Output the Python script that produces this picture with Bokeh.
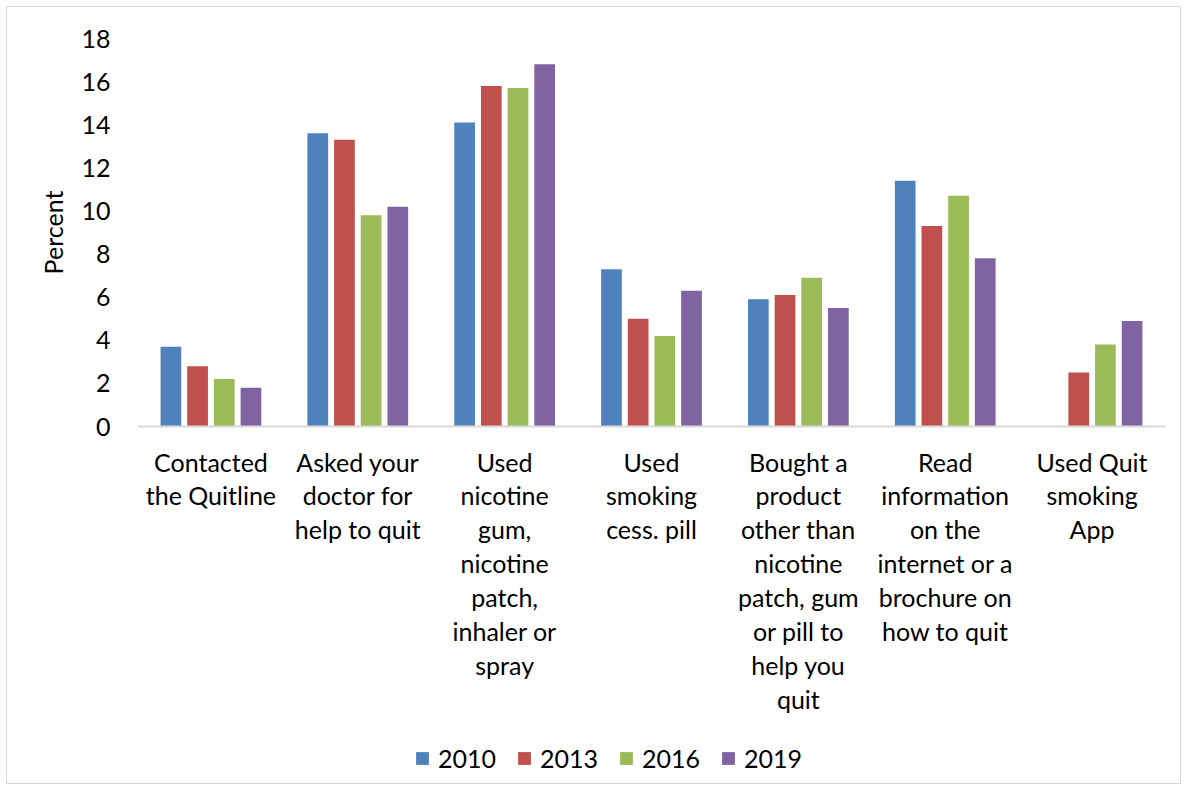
from bokeh.plotting import figure
from bokeh.layouts import column
from bokeh.models import FactorRange, Legend, LegendItem, FixedTicker, ColumnDataSource
from bokeh.transform import dodge
from bokeh.embed import file_html
from bokeh.resources import INLINE

categories = [
    "Contacted\nthe Quitline",
    "Asked your\ndoctor for\nhelp to quit",
    "Used\nnicotine\ngum,\nnicotine\npatch,\ninhaler or\nspray",
    "Used\nsmoking\ncess. pill",
    "Bought a\nproduct\nother than\nnicotine\npatch, gum\nor pill to\nhelp you\nquit",
    "Read\ninformation\non the\ninternet or a\nbrochure on\nhow to quit",
    "Used Quit\nsmoking\nApp",
]
years = ["2010", "2013", "2016", "2019"]
v2010 = [3.7, 13.6, 14.1, 7.3, 5.9, 11.4, float("nan")]
v2013 = [2.8, 13.3, 15.8, 5.0, 6.1, 9.3, 2.5]
v2016 = [2.2, 9.8, 15.7, 4.2, 6.9, 10.7, 3.8]
v2019 = [1.8, 10.2, 16.8, 6.3, 5.5, 7.8, 4.9]
y_ticks = [0, 2, 4, 6, 8, 10, 12, 14, 16, 18]
colors = ["#4F81BD", "#C0504D", "#9BBB59", "#8064A2"]

FONT = "Lato"
FS = "25px"

src = ColumnDataSource(dict(cat=categories, y2010=v2010, y2013=v2013, y2016=v2016, y2019=v2019))

p = figure(
    x_range=FactorRange(*categories, range_padding=0),
    y_range=(0, 18),
    width=1173, height=719,
    output_backend="svg", toolbar_location=None,
    min_border_left=130, min_border_right=15, min_border_top=31, min_border_bottom=300,
)
p.outline_line_color = None
p.xgrid.visible = False
p.ygrid.visible = False

offsets = [-0.2725, -0.0908, 0.0908, 0.2725]
for yr, col, off in zip(years, colors, offsets):
    p.vbar(x=dodge("cat", off, range=p.x_range), top="y" + yr, width=0.141,
           source=src, fill_color=col, line_color=None)

# y axis
p.yaxis.ticker = FixedTicker(ticks=y_ticks)
p.yaxis.axis_line_color = None
p.yaxis.major_tick_line_color = None
p.yaxis.minor_tick_line_color = None
p.yaxis.major_tick_out = 0
p.yaxis.major_tick_in = 0
p.yaxis.major_label_standoff = 27
p.yaxis.major_label_text_font = FONT
p.yaxis.major_label_text_font_size = FS
p.yaxis.major_label_text_color = "#000000"
p.yaxis.axis_label = "Percent"
p.yaxis.axis_label_text_font = FONT
p.yaxis.axis_label_text_font_size = FS
p.yaxis.axis_label_text_font_style = "normal"
p.yaxis.axis_label_text_color = "#000000"
p.yaxis.axis_label_standoff = 10

# x axis
p.xaxis.axis_line_color = "#d9d9d9"
p.xaxis.axis_line_width = 2
p.xaxis.major_tick_line_color = None
p.xaxis.minor_tick_line_color = None
p.xaxis.major_tick_out = 0
p.xaxis.major_tick_in = 0
p.xaxis.major_label_standoff = 20
p.xaxis.major_label_orientation = "horizontal"
p.xaxis.major_label_text_font = FONT
p.xaxis.major_label_text_font_size = FS
p.xaxis.major_label_text_color = "#000000"
p.xaxis.major_label_text_line_height = 1.13

# legend strip (its frame is aligned with the main plot's frame by the column layout)
p2 = figure(width=1173, height=57, x_range=(0, 1), y_range=(0, 1),
            output_backend="svg", toolbar_location=None,
            x_axis_location=None, y_axis_location=None, min_border=0)
p2.outline_line_color = None
p2.xgrid.visible = False
p2.ygrid.visible = False
items = []
for yr, col in zip(years, colors):
    # legend-only renderer: its single bar lies outside the strip's visible range
    r = p2.vbar(x=[5], top=[5], bottom=[4], width=0.1, fill_color=col, line_color=None)
    items.append(LegendItem(label=yr, renderers=[r]))
legend = Legend(items=items, orientation="horizontal", location=(277, 10),
                glyph_width=16, glyph_height=16, label_standoff=8, spacing=20,
                padding=0, margin=0, border_line_color=None, background_fill_alpha=0,
                label_text_font=FONT, label_text_font_size=FS, label_text_color="#000000")
p2.add_layout(legend, "center")

layout = column(p, p2, spacing=0)
layout.styles = {"border": "1px solid #d9d9d9", "margin": "6px 0 0 6px"}

open("out.html", "w").write(file_html(layout, INLINE))
